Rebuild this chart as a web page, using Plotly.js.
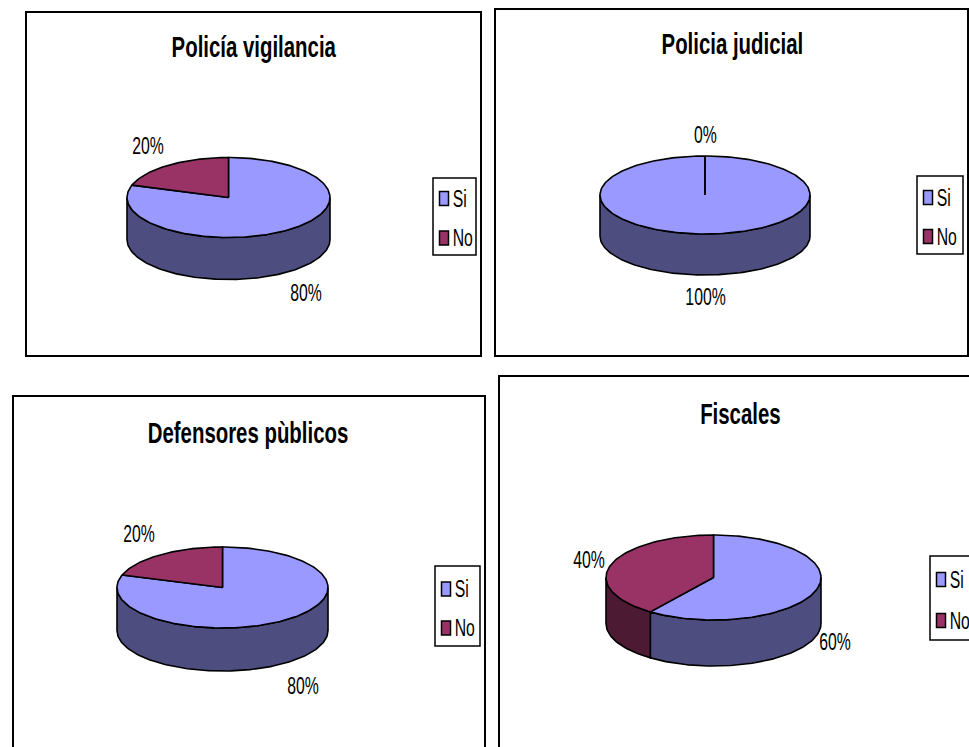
<!DOCTYPE html>
<html>
<head>
<meta charset="utf-8">
<script src="https://cdn.plot.ly/plotly-3.0.1.min.js"></script>
<style>html,body{margin:0;padding:0;background:#fff;overflow:hidden}</style>
</head>
<body>
<div id="chart" style="width:969px;height:747px"></div>
<script>
// ---- Data ----
const categories = ['Si', 'No'];
const chartTitles = ['Policía vigilancia', 'Policia judicial', 'Defensores pùblicos', 'Fiscales'];
const siValues = [80, 100, 80, 60];
const noValues = [20, 0, 20, 40];

// ---- Styles ----
const topColors = ['#9999FF', '#993366'];
const sideColors = ['#4D4D80', '#4D1A33'];
const FONT = '"Liberation Sans",Arial,sans-serif';
const TEXT_SCALE_X = 0.79, TEXT_SCALE_Y = 1.17;
const TITLE_SCALE_X = 0.85, TITLE_SCALE_Y = 1.2;

// ---- Layout of the four panels (page pixels) ----
const frames = [[26, 12, 481, 356], [495, 9, 968, 356], [13, 396, 485, 790], [499, 376, 1010, 790]];
const pies = [
  {cx: 228.5, cy: 197.5, rx: 101.5, ry: 40, d: 42},
  {cx: 705, cy: 195, rx: 105, ry: 39, d: 41},
  {cx: 222.5, cy: 587.5, rx: 105.5, ry: 40.5, d: 43},
  {cx: 713.5, cy: 577.5, rx: 107.5, ry: 42.5, d: 46}
];
const titlePos = [[254, 46], [732, 43], [248, 432], [740, 413]];
const labelPos = [
  [[306, 293], [148, 146]],
  [[705, 297], [705, 135]],
  [[303, 686], [139, 534]],
  [[835, 642], [589, 560]]
];
const legendBox = [[433, 178, 476, 255], [917, 176, 963, 254], [435, 566, 480, 646], [930, 556, 1000, 640]];
const legendRows = [[198.5, 238], [197.5, 236.5], [589, 628], [579.5, 620.5]];

const traces = [], shapes = [], annotations = [];
const rad = Math.PI / 180;

function arc(p, a0, a1, dy) {
  const xs = [], ys = [];
  const n = Math.max(2, Math.ceil(Math.abs(a1 - a0) / 1.5));
  for (let i = 0; i <= n; i++) {
    const t = (a0 + (a1 - a0) * i / n) * rad;
    xs.push(p.cx + p.rx * Math.sin(t));
    ys.push(p.cy - p.ry * Math.cos(t) + dy);
  }
  return [xs, ys];
}
function poly(xs, ys, color, name) {
  traces.push({
    x: xs, y: ys, type: 'scatter', mode: 'lines', fill: 'toself', fillcolor: color,
    line: {color: '#000', width: 1.6}, showlegend: false, name: name, hoverinfo: 'name'
  });
}

chartTitles.forEach((title, c) => {
  const p = pies[c];
  const vals = [siValues[c], noValues[c]];
  const total = vals[0] + vals[1];
  const f = frames[c];
  shapes.push({type: 'rect', xref: 'x', yref: 'y', layer: 'below', x0: f[0], x1: f[2], y0: f[1], y1: f[3],
    line: {color: '#000', width: 2}, fillcolor: '#fff'});

  // side walls
  let start = 0;
  vals.forEach((v, i) => {
    const end = start + 360 * v / total;
    const a0 = Math.max(start, 90), a1 = Math.min(end, 270);
    if (a1 > a0) {
      const up = arc(p, a0, a1, 0), low = arc(p, a1, a0, p.d);
      const xs = up[0].concat(low[0]); xs.push(xs[0]);
      const ys = up[1].concat(low[1]); ys.push(ys[0]);
      poly(xs, ys, sideColors[i], categories[i]);
    }
    start = end;
  });
  // top faces
  start = 0;
  vals.forEach((v, i) => {
    const end = start + 360 * v / total;
    const a = arc(p, start, end, 0);
    poly([p.cx].concat(a[0], [p.cx]), [p.cy].concat(a[1], [p.cy]), topColors[i], categories[i]);
    start = end;
  });

  // title
  annotations.push({x: titlePos[c][0], y: titlePos[c][1], xref: 'x', yref: 'y', showarrow: false,
    xanchor: 'center', yanchor: 'middle', text: '<b>' + title + '</b>',
    font: {family: FONT, size: 24, color: '#000'}});
  // percentage labels
  vals.forEach((v, i) => {
    annotations.push({x: labelPos[c][i][0], y: labelPos[c][i][1], xref: 'x', yref: 'y', showarrow: false,
      xanchor: 'center', yanchor: 'middle', text: Math.round(100 * v / total) + '%',
      font: {family: FONT, size: 20, color: '#000'}});
  });
  // legend
  const b = legendBox[c];
  shapes.push({type: 'rect', xref: 'x', yref: 'y', layer: 'below', x0: b[0], x1: b[2], y0: b[1], y1: b[3],
    line: {color: '#000', width: 1.5}, fillcolor: '#fff'});
  categories.forEach((cat, i) => {
    const yc = legendRows[c][i];
    shapes.push({type: 'rect', xref: 'x', yref: 'y', layer: 'below', x0: b[0] + 6.5, x1: b[0] + 15.5, y0: yc - 7, y1: yc + 7,
      line: {color: '#000', width: 1.5}, fillcolor: topColors[i]});
    annotations.push({x: b[0] + 20, y: yc, xref: 'x', yref: 'y', showarrow: false,
      xanchor: 'left', yanchor: 'middle', xshift: -2, text: cat,
      font: {family: FONT, size: 20, color: '#000'}});
  });
});

const layout = {
  width: 969, height: 747,
  margin: {l: 0, r: 0, t: 0, b: 0},
  paper_bgcolor: '#fff', plot_bgcolor: '#fff',
  xaxis: {range: [0, 969], visible: false, fixedrange: true},
  yaxis: {range: [747, 0], visible: false, fixedrange: true},
  shapes: shapes, annotations: annotations, showlegend: false
};

// The reference's lettering is condensed and tall; stretch each real text element about its anchor.
function condenseText() {
  document.querySelectorAll('#chart .annotation-text-g').forEach(g => {
    const t = g.querySelector('text');
    if (!t) return;
    const b = g.getBBox();
    const isTitle = chartTitles.includes(t.textContent);
    const sx = isTitle ? TITLE_SCALE_X : TEXT_SCALE_X;
    const sy = isTitle ? TITLE_SCALE_Y : TEXT_SCALE_Y;
    const ox = categories.includes(t.textContent) ? b.x : b.x + b.width / 2;
    const oy = b.y + b.height / 2;
    g.setAttribute('transform',
      'translate(' + ox + ',' + oy + ') scale(' + sx + ',' + sy + ') translate(' + (-ox) + ',' + (-oy) + ')');
  });
}
Plotly.newPlot('chart', traces, layout, {displayModeBar: false, staticPlot: true}).then(condenseText);
</script>
</body>
</html>
